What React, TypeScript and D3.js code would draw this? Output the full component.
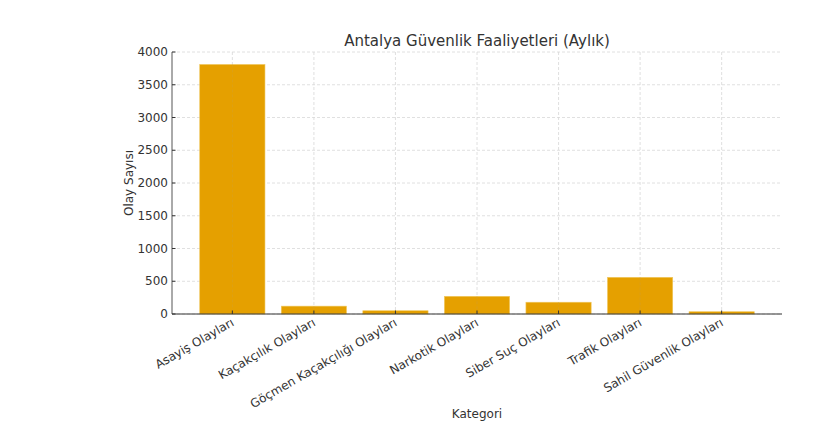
import React from "react";
import * as d3 from "d3";

const categories = [
  "Asayiş Olayları",
  "Kaçakçılık Olayları",
  "Göçmen Kaçakçılığı Olayları",
  "Narkotik Olayları",
  "Siber Suç Olayları",
  "Trafik Olayları",
  "Sahil Güvenlik Olayları",
];
const values = [3810, 120, 50, 270, 180, 560, 35];
const yTicks = [0, 500, 1000, 1500, 2000, 2500, 3000, 3500, 4000];

const W = 838;
const H = 423;
const left = 172;
const right = 782;
const top = 52;
const bottom = 314;
const font = "DejaVu Sans, sans-serif";
const color = "#e5a000";

export default function App() {
  const x = d3.scaleLinear().domain([-0.74, categories.length - 1 + 0.74]).range([left, right]);
  const y = d3.scaleLinear().domain([0, 4000]).range([bottom, top]);
  const bw = x(0.4) - x(-0.4);
  return (
    <svg width={W} height={H} style={{ position: "absolute", left: 0, top: 0 }} fontFamily={font}>
      <rect width={W} height={H} fill="#fff" />
      {yTicks.map((t) => (
        <line key={"gy" + t} x1={left} x2={right} y1={y(t)} y2={y(t)} stroke="#d8d8d8" strokeWidth={0.8} strokeDasharray="3,2" />
      ))}
      {categories.map((c, i) => (
        <line key={"gx" + i} x1={x(i)} x2={x(i)} y1={top} y2={bottom} stroke="#d8d8d8" strokeWidth={0.8} strokeDasharray="3,2" />
      ))}
      {values.map((v, i) => (
        <rect key={"b" + i} x={x(i) - bw / 2} y={y(v)} width={bw} height={y(0) - y(v)} fill={color} stroke="#f0c860" strokeWidth={0.6} />
      ))}
      {categories.map((c, i) => (
        <line key={"gx2" + i} x1={x(i)} x2={x(i)} y1={y(values[i])} y2={bottom} stroke="#c8a050" strokeWidth={0.6} strokeDasharray="3,2" opacity={0.5} />
      ))}
      <line x1={left} x2={left} y1={top} y2={bottom} stroke="#555" strokeWidth={1} />
      <line x1={left} x2={right} y1={bottom} y2={bottom} stroke="#333" strokeWidth={1.2} />
      {yTicks.map((t) => (
        <g key={"ty" + t}>
          <line x1={left} x2={left + 3.5} y1={y(t)} y2={y(t)} stroke="#333" />
          <text x={left - 4} y={y(t)} dy="0.35em" textAnchor="end" fontSize={12} fill="#333">{t}</text>
        </g>
      ))}
      {categories.map((c, i) => (
        <g key={"tx" + i}>
          <line x1={x(i)} x2={x(i)} y1={bottom} y2={bottom - 3.5} stroke="#333" />
          <text transform={`translate(${x(i) - 2},${bottom + 3}) rotate(-30)`} textAnchor="end" dy="0.75em" fontSize={12} fill="#333">{c}</text>
        </g>
      ))}
      <text x={(left + right) / 2} y={46} textAnchor="middle" fontSize={15} fill="#333">Antalya Güvenlik Faaliyetleri (Aylık)</text>
      <text x={(left + right) / 2} y={418} textAnchor="middle" fontSize={12} fill="#333">Kategori</text>
      <text transform={`translate(133,${(top + bottom) / 2}) rotate(-90)`} textAnchor="middle" fontSize={12} fill="#333">Olay Sayısı</text>
    </svg>
  );
}
